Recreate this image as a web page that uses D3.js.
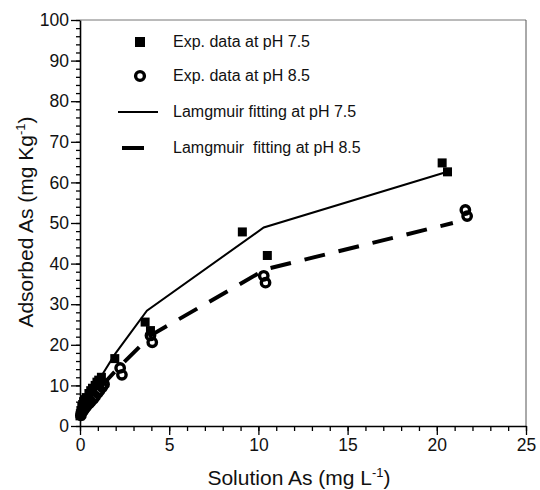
<!DOCTYPE html>
<html>
<head>
<meta charset="utf-8">
<script src="https://cdn.jsdelivr.net/npm/d3@7"></script>
<style>
  body { margin: 0; background: #fff; }
  svg { font-family: "Liberation Sans", Arial, sans-serif; }
</style>
</head>
<body>
<svg id="chart" width="540" height="490"></svg>
<script>
// Exp. data at pH 7.5 (squares)
const sqX = [0.0, 0.02, 0.05, 0.1, 0.15, 0.2, 0.28, 0.35, 0.5, 0.6, 0.7, 0.85, 0.95, 1.05, 1.2, 1.95, 3.65, 3.95, 9.1, 10.5, 20.3, 20.6];
const sqY = [2.5, 3.0, 3.8, 4.8, 5.3, 6.0, 6.5, 7.0, 8.0, 8.7, 9.3, 10.0, 10.8, 11.3, 12.0, 16.6, 25.6, 23.5, 47.8, 42.0, 64.8, 62.6];

// Exp. data at pH 8.5 (circles)
const ciX = [0.05, 0.15, 0.25, 0.35, 0.5, 0.6, 0.75, 0.85, 1.0, 1.1, 1.25, 1.35, 2.25, 2.35, 3.95, 4.05, 10.3, 10.4, 21.6, 21.7];
const ciY = [2.6, 3.6, 4.2, 4.8, 5.5, 6.0, 6.7, 7.3, 8.2, 8.8, 9.6, 10.3, 14.3, 12.6, 22.3, 20.6, 37.0, 35.3, 53.2, 51.7];

// Langmuir fittings
const fit75X = [0, 0.5, 1.2, 1.96, 3.75, 10.3, 20.5];
const fit75Y = [3.0, 7.8, 12.3, 17.7, 28.4, 48.9, 62.5];
const fit85X = [0, 0.6, 1.3, 2.3, 4.0, 10.4, 20.9];
const fit85Y = [2.5, 6.2, 10.3, 15.0, 22.4, 38.6, 50.0];

const xTicks = [0, 5, 10, 15, 20, 25];
const yTicks = [0, 10, 20, 30, 40, 50, 60, 70, 80, 90, 100];

const legendLabels = [
  "Exp. data at pH 7.5",
  "Exp. data at pH 8.5",
  "Lamgmuir fitting at pH 7.5",
  "Lamgmuir  fitting at pH 8.5"
];

const svg = d3.select("#chart");

const x = d3.scaleLinear().domain([0, 25]).range([80, 526]);
const y = d3.scaleLinear().domain([0, 100]).range([426, 20]);

// frame (top and right)
svg.append("line")
  .attr("x1", x(0)).attr("x2", x(25)).attr("y1", y(100)).attr("y2", y(100))
  .attr("stroke", "#777").attr("stroke-width", 1);
svg.append("line")
  .attr("x1", x(25)).attr("x2", x(25)).attr("y1", y(100)).attr("y2", y(0))
  .attr("stroke", "#555").attr("stroke-width", 1);

// minor ticks
svg.append("g")
  .attr("transform", `translate(0,${y(0)})`)
  .call(d3.axisBottom(x).tickValues(d3.range(0, 26, 1)).tickSize(5).tickSizeOuter(0).tickFormat(""))
  .call(g => g.selectAll("line").attr("stroke-width", 1.3))
  .call(g => g.select(".domain").remove());
svg.append("g")
  .attr("transform", `translate(${x(0)},0)`)
  .call(d3.axisLeft(y).tickValues(d3.range(0, 101, 2)).tickSize(4).tickSizeOuter(0).tickFormat(""))
  .call(g => g.selectAll("line").attr("stroke-width", 1.3))
  .call(g => g.select(".domain").remove());

// major axes
const xAxis = svg.append("g")
  .attr("transform", `translate(0,${y(0)})`)
  .call(d3.axisBottom(x).tickValues(xTicks).tickSize(9).tickSizeOuter(0).tickPadding(4));
const yAxis = svg.append("g")
  .attr("transform", `translate(${x(0)},0)`)
  .call(d3.axisLeft(y).tickValues(yTicks).tickSize(9).tickSizeOuter(0).tickPadding(2));

[xAxis, yAxis].forEach(a => {
  a.select(".domain").attr("stroke-width", 1.6);
  a.selectAll("line").attr("stroke-width", 1.3);
  a.selectAll("text")
    .attr("font-family", "Liberation Sans, Arial, sans-serif")
    .attr("font-size", 17.5)
    .attr("fill", "#111");
});

// axis titles
svg.append("text")
  .attr("x", 299).attr("y", 485)
  .attr("text-anchor", "middle")
  .attr("font-size", 21).attr("fill", "#111")
  .call(t => {
    t.append("tspan").text("Solution As (mg L");
    t.append("tspan").attr("dy", -8).attr("font-size", 13).text("-1");
    t.append("tspan").attr("dy", 8).text(")");
  });

svg.append("text")
  .attr("transform", "translate(33,222) rotate(-90)")
  .attr("text-anchor", "middle")
  .attr("font-size", 21).attr("fill", "#111")
  .call(t => {
    t.append("tspan").text("Adsorbed As (mg Kg");
    t.append("tspan").attr("dy", -8).attr("font-size", 13).text("-1");
    t.append("tspan").attr("dy", 8).text(")");
  });

// fitting lines
const line = d3.line().x(d => x(d[0])).y(d => y(d[1]));

svg.append("path")
  .datum(d3.zip(fit75X, fit75Y))
  .attr("d", line)
  .attr("fill", "none").attr("stroke", "#000").attr("stroke-width", 2);

svg.append("path")
  .datum(d3.zip(fit85X, fit85Y))
  .attr("d", line)
  .attr("fill", "none").attr("stroke", "#000").attr("stroke-width", 4)
  .attr("stroke-dasharray", "21,14");

// circles (pH 8.5)
svg.append("g")
  .selectAll("circle")
  .data(d3.zip(ciX, ciY))
  .join("circle")
  .attr("cx", d => x(d[0]))
  .attr("cy", d => y(d[1]))
  .attr("r", 4.2)
  .attr("fill", "none")
  .attr("stroke", "#000")
  .attr("stroke-width", 3.4);

// squares (pH 7.5)
const sq = 9;
svg.append("g")
  .selectAll("rect")
  .data(d3.zip(sqX, sqY))
  .join("rect")
  .attr("x", d => x(d[0]) - sq / 2)
  .attr("y", d => y(d[1]) - sq / 2)
  .attr("width", sq)
  .attr("height", sq)
  .attr("fill", "#000");

// legend
const legRows = [42, 76, 112, 148];
const leg = svg.append("g");
leg.append("rect").attr("x", 140 - 5).attr("y", legRows[0] - 5).attr("width", 10).attr("height", 10).attr("fill", "#000");
leg.append("circle").attr("cx", 140).attr("cy", legRows[1]).attr("r", 4.4)
  .attr("fill", "none").attr("stroke", "#000").attr("stroke-width", 3.4);
leg.append("line").attr("x1", 118).attr("x2", 158).attr("y1", legRows[2]).attr("y2", legRows[2])
  .attr("stroke", "#000").attr("stroke-width", 2);
leg.append("line").attr("x1", 122).attr("x2", 144).attr("y1", legRows[3]).attr("y2", legRows[3])
  .attr("stroke", "#000").attr("stroke-width", 4);

leg.selectAll("text")
  .data(legendLabels)
  .join("text")
  .attr("x", 173)
  .attr("y", (d, i) => legRows[i] + 5)
  .attr("font-size", 16)
  .attr("fill", "#111")
  .style("white-space", "pre")
  .text(d => d);
</script>
</body>
</html>
